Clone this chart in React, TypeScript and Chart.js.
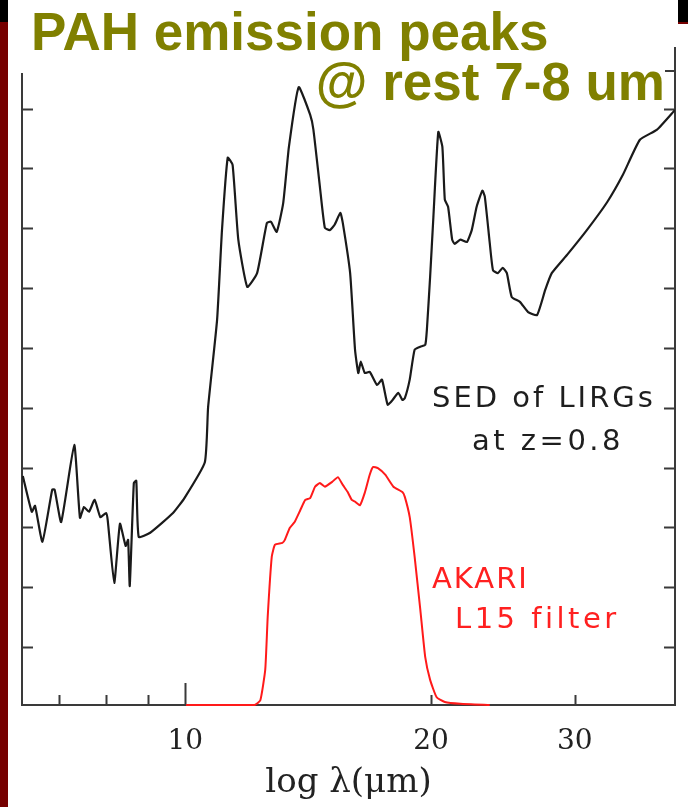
import React, { useEffect, useRef } from "react";
import { Chart, registerables } from "chart.js";

Chart.register(...registerables);

// SED of LIRGs at z=0.8 : x = log10(lambda / um), y = flux (arbitrary units)
const sedLogLambda = [
  0.801, 0.812, 0.816, 0.825, 0.837, 0.840, 0.848, 0.864, 0.871, 0.876,
  0.882, 0.889, 0.896, 0.903, 0.905, 0.913, 0.920, 0.927, 0.930, 0.932,
  0.937, 0.940, 0.943, 0.957, 0.985, 0.999, 1.024, 1.028, 1.039, 1.045,
  1.052, 1.058, 1.065, 1.076, 1.088, 1.100, 1.105, 1.112, 1.120, 1.127,
  1.139, 1.153, 1.157, 1.165, 1.171, 1.177, 1.183, 1.190, 1.193, 1.202,
  1.208, 1.212, 1.215, 1.220, 1.226, 1.235, 1.241, 1.248, 1.254, 1.261,
  1.266, 1.269, 1.275, 1.281, 1.288, 1.294, 1.296, 1.300, 1.304, 1.310,
  1.315, 1.318, 1.322, 1.327, 1.330, 1.337, 1.345, 1.351, 1.357, 1.364,
  1.367, 1.373, 1.377, 1.383, 1.389, 1.394, 1.400, 1.410, 1.420, 1.431,
  1.441, 1.449, 1.468, 1.492, 1.517, 1.536, 1.557, 1.578, 1.600,
];
const sedFlux = [
  3.83, 3.23, 3.33, 2.73, 3.60, 3.60, 3.06, 4.35, 3.13, 3.31,
  3.23, 3.43, 3.14, 3.21, 3.09, 2.04, 3.03, 2.66, 2.76, 1.99,
  3.71, 3.75, 2.81, 2.88, 3.21, 3.46, 4.06, 4.98, 6.44, 7.94,
  9.15, 9.03, 7.78, 6.99, 7.22, 8.06, 8.08, 7.91, 8.39, 9.33,
  10.33, 9.87, 9.62, 8.66, 7.98, 7.94, 8.03, 8.23, 8.06, 7.22,
  5.94, 5.55, 5.74, 5.55, 5.57, 5.35, 5.44, 5.02, 5.10, 5.22,
  5.10, 5.13, 5.44, 5.94, 5.99, 6.02, 6.27, 7.16, 8.16, 9.58,
  9.33, 8.45, 8.33, 7.78, 7.71, 7.78, 7.74, 7.94, 8.33, 8.60,
  8.50, 7.73, 7.27, 7.22, 7.31, 7.22, 6.82, 6.74, 6.57, 6.52,
  6.94, 7.22, 7.53, 7.94, 8.41, 8.86, 9.45, 9.62, 9.95,
];

// AKARI L15 filter transmission (arbitrary units)
const filterLogLambda = [
  1.001, 1.067, 1.085, 1.092, 1.098, 1.101, 1.106, 1.110, 1.119, 1.122,
  1.128, 1.134, 1.141, 1.147, 1.153, 1.159, 1.165, 1.171, 1.180, 1.187,
  1.193, 1.199, 1.204, 1.208, 1.214, 1.220, 1.226, 1.230, 1.236, 1.245,
  1.255, 1.266, 1.269, 1.275, 1.281, 1.288, 1.294, 1.300, 1.308, 1.318,
  1.337, 1.373,
];
const filterTrans = [
  0, 0, 0, 0.08, 0.59, 1.47, 2.48, 2.68, 2.71, 2.76,
  2.96, 3.06, 3.26, 3.43, 3.46, 3.65, 3.71, 3.65, 3.73, 3.81,
  3.68, 3.56, 3.43, 3.40, 3.34, 3.55, 3.85, 3.98, 3.96, 3.85,
  3.65, 3.56, 3.48, 3.14, 2.48, 1.59, 0.80, 0.42, 0.13, 0.05,
  0.02, 0,
];

// axis ticks (wavelength in um) and their labels
const xTickWavelengths = [7, 8, 9, 10, 20, 30];
const xTickLabels = ["", "", "", "10", "20", "30"];
const yTickValues = [0.97, 1.97, 2.97, 3.97, 4.97, 5.97, 6.97, 7.97, 8.97, 9.97];

const titleLine1 = "PAH emission peaks";
const titleLine2 = "@ rest 7-8 um";
const sedLabel = ["SED of LIRGs", "at z=0.8"];
const filterLabel = ["AKARI", "L15 filter"];

const framePlugin = {
  id: "frame",
  beforeDatasetsDraw(chart: any) {
    const { ctx, chartArea, scales } = chart;
    const { left, right, top, bottom } = chartArea;
    const x = scales.x;
    const y = scales.y;
    ctx.save();
    ctx.strokeStyle = "#3a3a3a";
    ctx.lineWidth = 2;
    ctx.beginPath();
    ctx.moveTo(left, top);
    ctx.lineTo(left, bottom);
    ctx.lineTo(right, bottom);
    ctx.lineTo(right, top - 24);
    ctx.moveTo(left, top);
    ctx.lineTo(right, top);
    ctx.stroke();
    ctx.beginPath();
    yTickValues.forEach((v) => {
      const py = Math.round(y.getPixelForValue(v)) + 0.5;
      ctx.moveTo(left, py);
      ctx.lineTo(left + 11, py);
      ctx.moveTo(right, py);
      ctx.lineTo(right - 11, py);
    });
    xTickWavelengths.forEach((w) => {
      const px = Math.round(x.getPixelForValue(Math.log10(w))) + 0.5;
      const len = w === 10 ? 22 : 10;
      ctx.moveTo(px, bottom);
      ctx.lineTo(px, bottom - len);
    });
    ctx.stroke();
    ctx.restore();
  },
};

const decoPlugin = {
  id: "deco",
  afterDraw(chart: any) {
    const { ctx } = chart;
    ctx.save();
    // white title box
    ctx.fillStyle = "#ffffff";
    ctx.fillRect(8, 0, 657, 73);
    // slide decorations
    ctx.fillStyle = "#000000";
    ctx.fillRect(0, 0, 8, 22);
    ctx.fillRect(678, 0, 10, 22);
    ctx.fillStyle = "#760000";
    ctx.fillRect(0, 22, 8, 785);
    ctx.fillRect(678, 22, 10, 2);

    // title
    ctx.fillStyle = "#808000";
    ctx.font = 'bold 53px "Liberation Sans", Arial, sans-serif';
    ctx.textBaseline = "alphabetic";
    ctx.textAlign = "left";
    ctx.fillText(titleLine1, 31, 50);
    ctx.textAlign = "right";
    ctx.fillText(titleLine2, 665, 100);

    // annotations
    ctx.textAlign = "left";
    ctx.font = '29px "DejaVu Sans", sans-serif';
    const c = ctx as any;
    c.letterSpacing = "3px";
    ctx.fillStyle = "#1e1e1e";
    ctx.fillText(sedLabel[0], 432, 407);
    c.letterSpacing = "3.5px";
    ctx.fillText(sedLabel[1], 472, 450);
    ctx.fillStyle = "#ff2020";
    c.letterSpacing = "2px";
    ctx.fillText(filterLabel[0], 432, 588);
    c.letterSpacing = "3.5px";
    ctx.fillText(filterLabel[1], 455, 628);
    c.letterSpacing = "0px";
    ctx.restore();
  },
};

export default function App() {
  const canvasRef = useRef<HTMLCanvasElement | null>(null);

  useEffect(() => {
    if (!canvasRef.current) return;
    const sedData = sedLogLambda.map((v, i) => ({ x: v, y: sedFlux[i] }));
    const filterData = filterLogLambda.map((v, i) => ({ x: v, y: filterTrans[i] }));
    const chart = new Chart(canvasRef.current, {
      type: "line",
      data: {
        datasets: [
          {
            data: sedData,
            borderColor: "#1a1a1a",
            borderWidth: 2.2,
            pointRadius: 0,
            tension: 0.15,
            fill: false,
          },
          {
            data: filterData,
            borderColor: "#ff1a1a",
            borderWidth: 2,
            pointRadius: 0,
            tension: 0.15,
            fill: false,
            clip: 4,
          },
        ],
      },
      options: {
        animation: false,
        responsive: false,
        maintainAspectRatio: false,
        layout: { padding: { left: 22, right: 13, top: 71, bottom: 4 } },
        plugins: { legend: { display: false }, tooltip: { enabled: false } },
        scales: {
          x: {
            type: "linear",
            min: 0.8,
            max: 1.6,
            afterBuildTicks: (axis: any) => {
              axis.ticks = xTickWavelengths.map((w) => ({ value: Math.log10(w) }));
            },
            grid: { display: false, drawTicks: true, tickLength: 20 },
            border: { display: false },
            ticks: {
              autoSkip: false,
              maxRotation: 0,
              padding: 3,
              color: "#222222",
              font: { family: '"DejaVu Serif", serif', size: 28, lineHeight: 1 },
              callback: (_v: any, i: number) => xTickLabels[i],
            },
            title: {
              display: true,
              text: "log λ(μm)",
              color: "#222222",
              font: { family: '"DejaVu Serif", serif', size: 34, lineHeight: 1 },
              padding: { top: 7, bottom: 3 },
            },
          },
          y: { type: "linear", display: false, min: 0, max: 10.6 },
        },
      },
      plugins: [framePlugin, decoPlugin],
    });
    return () => chart.destroy();
  }, []);

  return (
    <div style={{ position: "fixed", left: 0, top: 0, width: 688, height: 807, background: "#ffffff" }}>
      <canvas ref={canvasRef} width={688} height={807} style={{ display: "block" }} />
    </div>
  );
}
